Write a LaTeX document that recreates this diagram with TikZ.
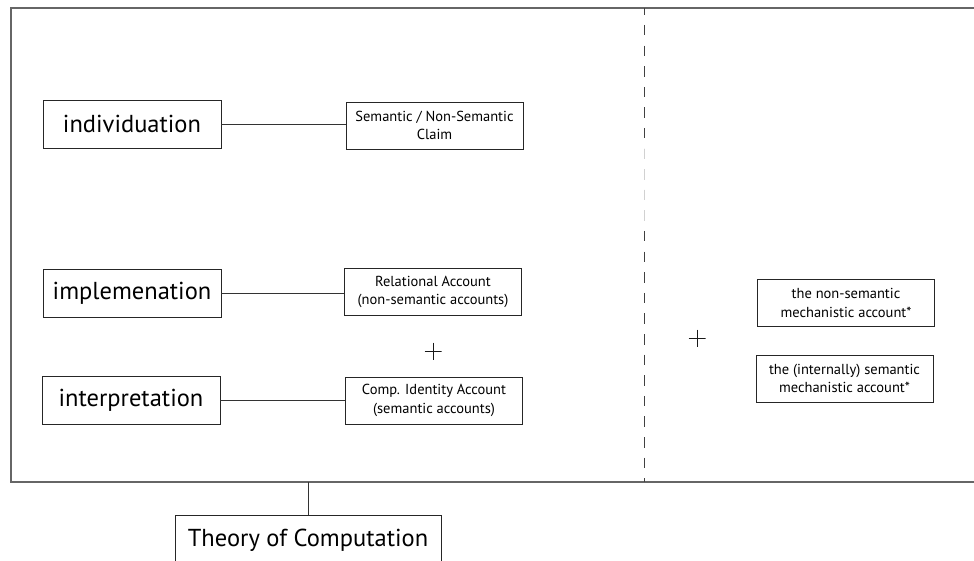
\documentclass[tikz,border=0pt]{standalone}
\usepackage{fontspec}
\setmainfont{PT Sans}
\begin{document}
\begin{tikzpicture}[x=1pt,y=-1pt,
  bigbox/.style={draw=black!85, line width=0.8pt, minimum width=178pt, minimum height=48pt, inner sep=0pt, font=\fontsize{24.5}{28}\selectfont},
  smallbox/.style={draw=black!85, line width=0.8pt, minimum width=177pt, minimum height=47pt, inner sep=0pt, align=center, font=\fontsize{14.5}{18.5}\selectfont},
  link/.style={draw=black!80, line width=0.7pt},
  frameline/.style={draw=black!60, line width=1.4pt},
  plus/.style={minimum size=17pt, inner sep=0pt, path picture={
     \draw[line width=0.9pt, black!90] (path picture bounding box.west) -- (path picture bounding box.east)
       (path picture bounding box.north) -- (path picture bounding box.south);}},
  dashdiv/.style={line width=0.8pt, dash pattern=on 10.5pt off 10.1pt}
]
\useasboundingbox (0,0) rectangle (974,561);
\clip (0,0) rectangle (974,561);
% outer frame (open on the right)
\draw[frameline] (974,8) -- (11,8) -- (11,482) -- (974,482);
% dashed divider
\draw[dashdiv, draw=black!75, dash phase=3.6pt] (644,8) -- (644,482);
\draw[dashdiv, draw=black!18, dash phase=20pt] (644,148) -- (644,224);
% nodes
\node[bigbox] (ind) at (132,124) {individuation};
\node[bigbox] (imp) at (132,293) {implemenation};
\node[bigbox] (int) at (131,400.5) {interpretation};
\node[smallbox] (sem) at (434.5,125.5) {Semantic / Non-Semantic\\Claim};
\node[smallbox] (rel) at (433,292) {Relational Account\\(non-semantic accounts)};
\node[smallbox] (comp) at (434,400.5) {Comp. Identity Account\\(semantic accounts)};
\node[smallbox] (nonsem) at (846,303) {the non-semantic\\mechanistic account*};
\node[smallbox] (intsem) at (844.5,378.5) {the (internally) semantic\\mechanistic account*};
\node[plus] (plusa) at (433,351) {};
\node[plus] (plusb) at (697,338) {};
\node[bigbox, minimum width=266pt, minimum height=50pt] (theory) at (308,540) {Theory of Computation};
\coordinate (fb) at (308,482);
% connectors
\draw[link] (ind.east) -- (sem.west |- ind.east);
\draw[link] (imp.east) -- (rel.west |- imp.east);
\draw[link] (int.east) -- (comp.west |- int.east);
\draw[link] (fb) -- (theory.north);
\end{tikzpicture}
\end{document}
